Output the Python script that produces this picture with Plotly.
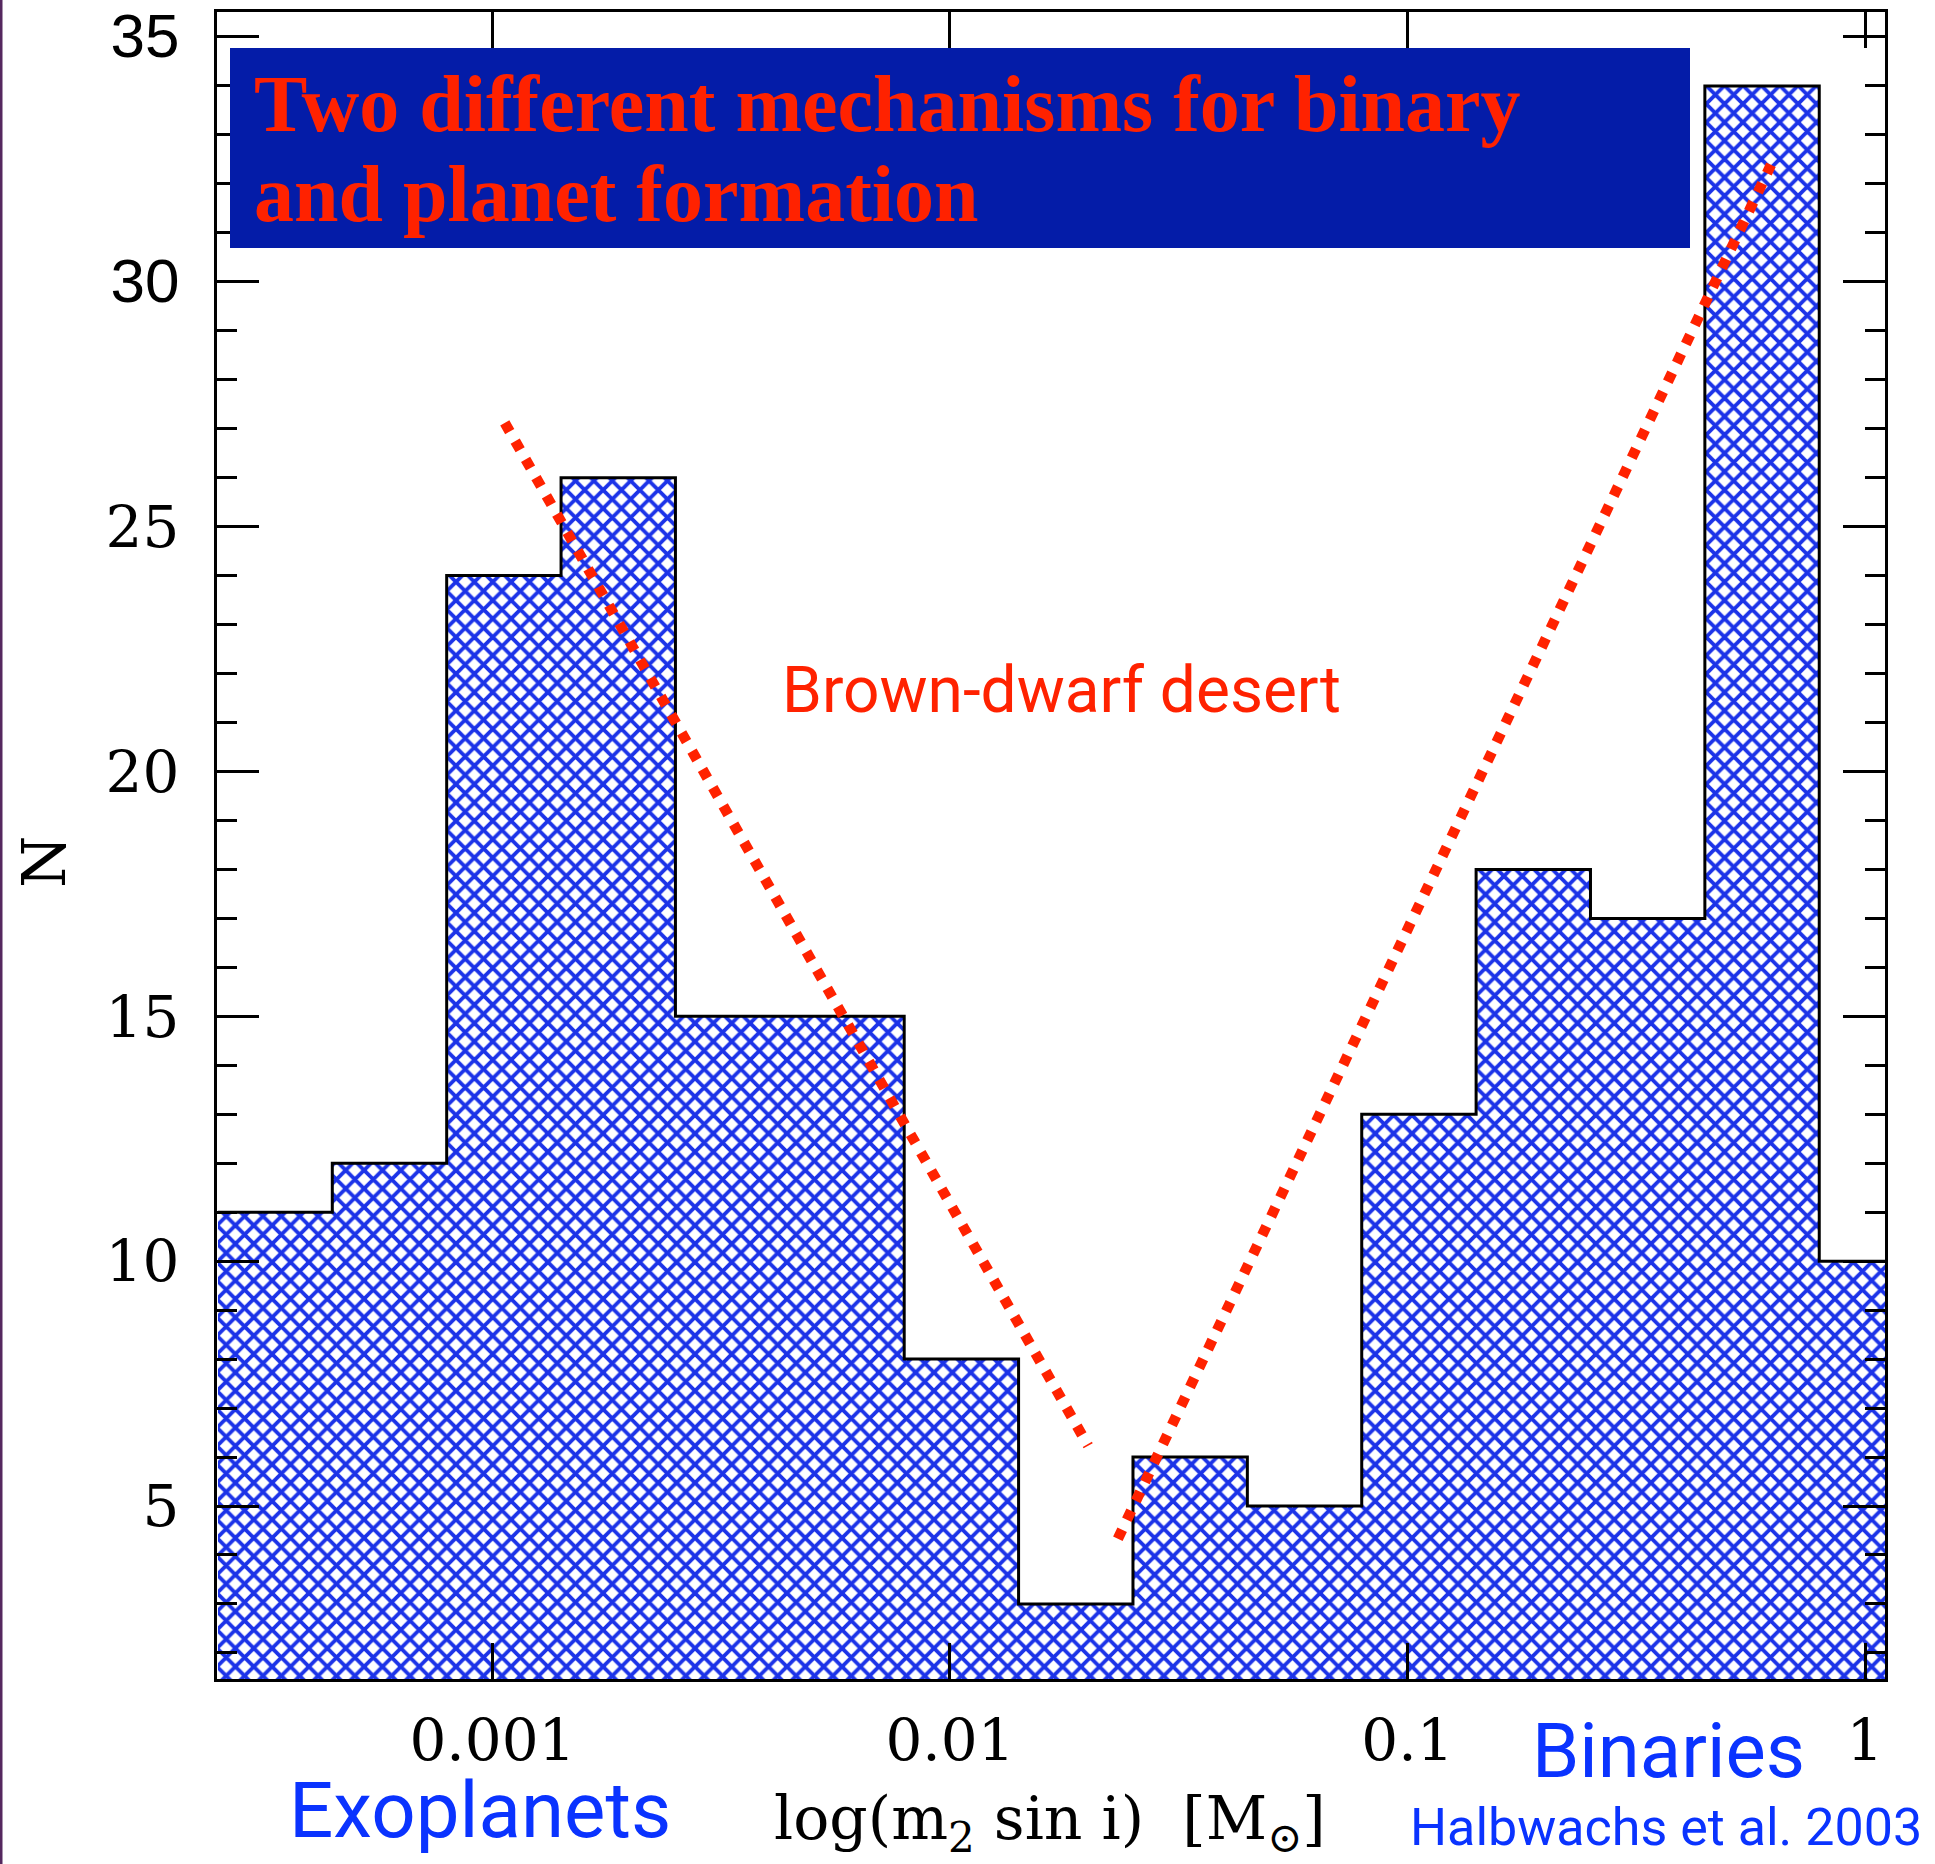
import plotly.graph_objects as go

# ---- data -------------------------------------------------------------
# histogram of log10(m2 sin i) [Msun], bins of 0.25 dex
bin_edges = [-3.60, -3.35, -3.10, -2.85, -2.60, -2.35, -2.10, -1.85,
             -1.60, -1.35, -1.10, -0.85, -0.60, -0.35, -0.10, 0.15]
counts = [11, 12, 24, 26, 15, 15, 8, 3, 6, 5, 13, 18, 17, 34, 10]

# hand-drawn trend lines bracketing the brown-dwarf desert
planet_trend_logm = [-2.973, -1.698]
planet_trend_n = [27.12, 6.23]
binary_trend_logm = [-1.633, -0.2055]
binary_trend_n = [4.33, 32.39]

x_tick_vals = [-3, -2, -1, 0]
x_tick_text = ["0.001", "0.01", "0.1", "1"]
y_tick_vals = [5, 10, 15, 20, 25, 30, 35]
y_tick_text = ["5", "10", "15", "20", "25",
               "<span style=\"font-family:'Liberation Sans';font-size:62px\">30</span>",
               "<span style=\"font-family:'Liberation Sans';font-size:62px\">35</span>"]

# ---- page geometry (pixels) ------------------------------------------
W, H = 1935, 1864
PL, PR, PT, PB = 217, 1885, 12, 1679


def fx(px):
    return (px - PL) / (PR - PL)


def fy(py):
    return (PB - py) / (PB - PT)


HATCH_BLUE = "#1c33e8"
RED = "#ff2200"
TEXT_BLUE = "#0a33ff"
SERIF = "DejaVu Serif"
SANS = "Roboto"

centers = [(bin_edges[i] + bin_edges[i + 1]) / 2 for i in range(len(counts))]
widths = [bin_edges[i + 1] - bin_edges[i] for i in range(len(counts))]

fig = go.Figure()

# cross-hatched histogram bars
fig.add_trace(go.Bar(
    x=centers, y=counts, width=widths,
    marker=dict(
        color="white",
        line=dict(width=0),
        pattern=dict(shape="x", fgcolor=HATCH_BLUE, bgcolor="white",
                     size=13, solidity=0.5, fillmode="replace"),
    ),
    showlegend=False, hoverinfo="skip",
))

# stepped outline of the histogram
fig.add_trace(go.Scatter(
    x=bin_edges, y=counts + [counts[-1]],
    mode="lines", line=dict(color="black", width=3, shape="hv"),
    showlegend=False, hoverinfo="skip",
))

# dotted trend lines
for xs, ys in [(planet_trend_logm, planet_trend_n),
               (binary_trend_logm, binary_trend_n)]:
    fig.add_trace(go.Scatter(
        x=xs, y=ys, mode="lines",
        line=dict(color=RED, width=10.5, dash="10px,11px"),
        showlegend=False, hoverinfo="skip",
    ))

axis_common = dict(
    showgrid=False, zeroline=False, automargin=False,
    showline=True, linecolor="black", linewidth=3,
    mirror="allticks", ticks="inside", tickcolor="black", tickwidth=3,
    tickfont=dict(family=SERIF, size=58, color="black"),
)

fig.update_xaxes(
    range=[-3.602, 0.0437], tickmode="array",
    tickvals=x_tick_vals, ticktext=x_tick_text,
    ticklen=36, ticklabelstandoff=8,
    **axis_common,
)
fig.update_yaxes(
    range=[1.467, 35.51], tickmode="array",
    tickvals=y_tick_vals, ticktext=y_tick_text,
    ticklen=42, ticklabelstandoff=23,
    minor=dict(dtick=1, tick0=0, ticks="inside", ticklen=20,
               tickwidth=3, tickcolor="black"),
    **axis_common,
)

shapes = [
    # title banner
    dict(type="rect", xref="paper", yref="paper",
         x0=fx(230), x1=fx(1690), y0=fy(248), y1=fy(48),
         fillcolor="#041ca8", line=dict(width=0), layer="above"),
    # slide edge on the left
    dict(type="rect", xref="paper", yref="paper",
         x0=fx(0), x1=fx(2.5), y0=fy(H), y1=fy(0),
         fillcolor="#55285f", line=dict(width=0), layer="above"),
]

title_font = dict(family="Liberation Serif", size=80, color=RED, weight="bold")
annotations = [
    dict(text="Two different mechanisms for binary", x=fx(252), y=fy(104),
         xanchor="left", yanchor="middle", font=title_font),
    dict(text="and planet formation", x=fx(252), y=fy(194),
         xanchor="left", yanchor="middle", font=title_font),
    dict(text="Brown-dwarf desert", x=fx(1061), y=fy(690),
         xanchor="center", yanchor="middle",
         font=dict(family=SANS, size=64, color=RED)),
    dict(text="Exoplanets", x=fx(480), y=fy(1810),
         xanchor="center", yanchor="middle",
         font=dict(family=SANS, size=78, color=TEXT_BLUE)),
    dict(text="Binaries", x=fx(1668), y=fy(1751),
         xanchor="center", yanchor="middle",
         font=dict(family=SANS, size=76, color=TEXT_BLUE)),
    dict(text="Halbwachs et al. 2003", x=fx(1666), y=fy(1827),
         xanchor="center", yanchor="middle",
         font=dict(family=SANS, size=52, color=TEXT_BLUE)),
    dict(text="log(m<sub>2</sub> sin i)  [M<sub>⊙</sub>]", x=fx(1050), y=fy(1822),
         xanchor="center", yanchor="middle",
         font=dict(family=SERIF, size=60, color="black")),
    dict(text="N", x=fx(44), y=fy(862), textangle=-90,
         xanchor="center", yanchor="middle",
         font=dict(family=SERIF, size=60, color="black")),
]
for a in annotations:
    a.update(xref="paper", yref="paper", showarrow=False)

fig.update_layout(
    width=W, height=H, autosize=False,
    margin=dict(l=PL, r=W - PR, t=PT, b=H - PB, pad=0, autoexpand=False),
    paper_bgcolor="white", plot_bgcolor="white",
    bargap=0, barmode="overlay",
    shapes=shapes, annotations=annotations,
    showlegend=False,
)

fig.write_html("out.html", post_script="document.body.style.margin='0';")
